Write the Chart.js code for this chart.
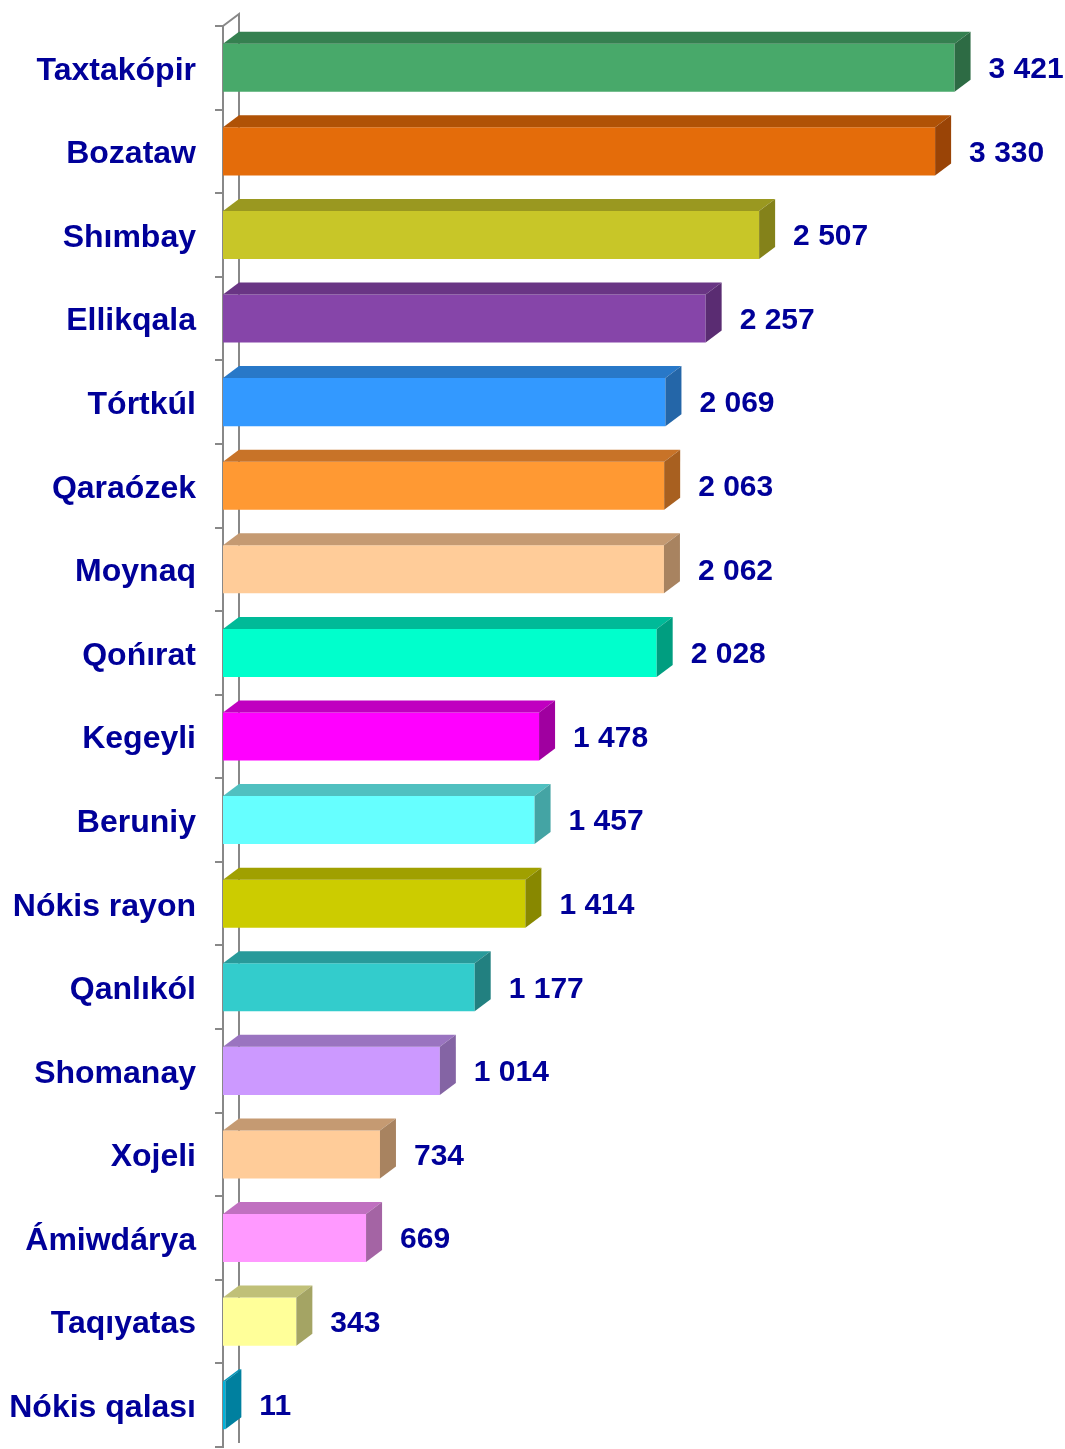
<!DOCTYPE html>
<html>
<head>
<meta charset="utf-8">
<script src="https://cdn.jsdelivr.net/npm/chart.js@4"></script>
<style>
  html, body { margin: 0; padding: 0; background: #fff; }
  #wrap { width: 1065px; height: 1449px; position: relative; }
</style>
</head>
<body>
<div id="wrap"><canvas id="chartRayon"></canvas></div>
<script>
// Rayonlar boyınsha kórsetkish
const categories = ['Taxtakópir', 'Bozataw', 'Shımbay', 'Ellikqala', 'Tórtkúl', 'Qaraózek', 'Moynaq', 'Qońırat',
  'Kegeyli', 'Beruniy', 'Nókis rayon', 'Qanlıkól', 'Shomanay', 'Xojeli', 'Ámiwdárya', 'Taqıyatas', 'Nókis qalası'];
const values = [3421, 3330, 2507, 2257, 2069, 2063, 2062, 2028, 1478, 1457, 1414, 1177, 1014, 734, 669, 343, 11];

// front / top / side face colours of each bar
const frontColors = ['#48a96a', '#e46c0a', '#c8c628', '#8645a9', '#3399ff', '#ff9933', '#ffcc99', '#00ffcc',
  '#ff00ff', '#66ffff', '#cccc00', '#33cccc', '#cc99ff', '#ffcc99', '#ff99ff', '#ffff99', '#00b4dc'];
const topColors = ['#358050', '#b05206', '#9a9820', '#693584', '#2878c8', '#c87328', '#c59a72', '#00ba98',
  '#c000c0', '#50c0c0', '#a0a000', '#289a9a', '#9a74c0', '#c59a72', '#c070c0', '#c0c078', '#0094b8'];
const sideColors = ['#2d6b44', '#9a4406', '#84821a', '#5a2c72', '#2466a8', '#a86020', '#a88360', '#009e80',
  '#a000a0', '#44a4a4', '#888800', '#228080', '#8464a4', '#a88360', '#a464a4', '#a4a464', '#00809f'];

const DEPTH_X = 16, DEPTH_Y = 12;
const TEXT_COLOR = '#000099';
const AXIS_COLOR = '#888888';

function fmt(v) {
  return String(v).replace(/\B(?=(\d{3})+(?!\d))/g, ' ');
}

function poly(ctx, pts, color) {
  ctx.beginPath();
  ctx.moveTo(pts[0][0], pts[0][1]);
  for (let i = 1; i < pts.length; i++) ctx.lineTo(pts[i][0], pts[i][1]);
  ctx.closePath();
  ctx.fillStyle = color;
  ctx.fill();
}

const bar3d = {
  id: 'bar3d',
  beforeDatasetsDraw(chart) {
    // back wall edge of the category axis
    const { ctx, chartArea } = chart;
    const l = chartArea.left;
    ctx.save();
    ctx.strokeStyle = AXIS_COLOR;
    ctx.lineWidth = 2;
    ctx.beginPath();
    ctx.moveTo(l, chartArea.top);
    ctx.lineTo(l + DEPTH_X, chartArea.top - DEPTH_Y);
    ctx.lineTo(l + DEPTH_X, chartArea.bottom - 4);
    ctx.stroke();
    ctx.restore();
  },
  afterDatasetsDraw(chart) {
    const { ctx } = chart;
    const meta = chart.getDatasetMeta(0);
    ctx.save();
    meta.data.forEach((bar, i) => {
      const x0 = bar.base, x1 = bar.x;
      const t = bar.y - bar.height / 2, b = bar.y + bar.height / 2;
      poly(ctx, [[x0, t], [x1, t], [x1 + DEPTH_X, t - DEPTH_Y], [x0 + DEPTH_X, t - DEPTH_Y]], topColors[i]);
      poly(ctx, [[x1, t], [x1 + DEPTH_X, t - DEPTH_Y], [x1 + DEPTH_X, b - DEPTH_Y], [x1, b]], sideColors[i]);
      ctx.font = 'bold 30px "Liberation Sans", Arial, sans-serif';
      ctx.fillStyle = TEXT_COLOR;
      ctx.textAlign = 'left';
      ctx.textBaseline = 'middle';
      ctx.fillText(fmt(values[i]), x1 + DEPTH_X + 18, bar.y + 2);
    });
    ctx.restore();
  }
};

new Chart(document.getElementById('chartRayon'), {
  type: 'bar',
  data: {
    labels: categories,
    datasets: [{
      data: values,
      backgroundColor: frontColors,
      borderWidth: 0,
      barPercentage: 0.575,
      categoryPercentage: 1
    }]
  },
  options: {
    indexAxis: 'y',
    responsive: true,
    maintainAspectRatio: false,
    animation: false,
    layout: { padding: { top: 26, bottom: 2, right: 8, left: 0 } },
    plugins: { legend: { display: false }, tooltip: { enabled: false } },
    scales: {
      x: { display: false, min: 0, max: 3900 },
      y: {
        afterFit(scale) {
          scale.width = 223;
          scale.paddingTop = 0;
          scale.paddingBottom = 0;
        },
        border: { display: true, color: AXIS_COLOR, width: 2 },
        grid: { offset: true, drawOnChartArea: false, drawTicks: true, tickLength: 8, color: AXIS_COLOR, lineWidth: 2 },
        ticks: {
          padding: 19,
          labelOffset: 3,
          color: TEXT_COLOR,
          font: { family: '"Liberation Sans", Arial, sans-serif', size: 32, weight: 'bold' }
        }
      }
    }
  },
  plugins: [bar3d]
});
</script>
</body>
</html>
